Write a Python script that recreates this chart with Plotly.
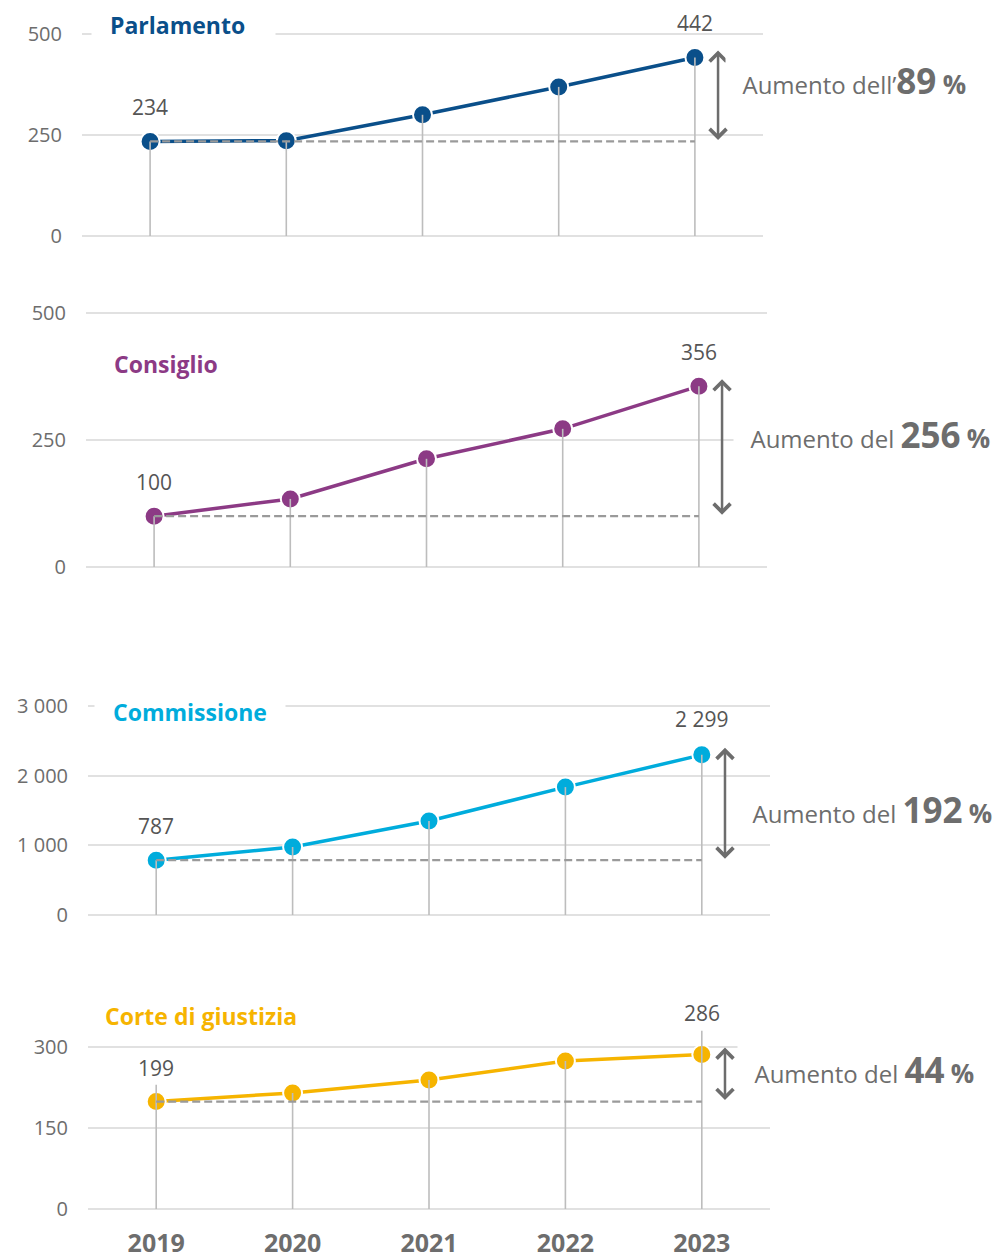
import plotly.graph_objects as go

# ---------------- data ----------------
years = [2019, 2020, 2021, 2022, 2023]
year_labels = ["2019", "2020", "2021", "2022", "2023"]

names = ["Parlamento", "Consiglio", "Commissione", "Corte di giustizia"]
parlamento = [234, 236, 300, 369, 442]
consiglio = [100, 134, 213, 272, 356]
commissione = [787, 976, 1349, 1836, 2299]
corte = [199, 215, 239, 274, 286]
increase_pct = [89, 256, 192, 44]
increase_prefix = ["Aumento dell’", "Aumento del ", "Aumento del ", "Aumento del "]
y_ticks_parlamento = [0, 250, 500]
y_ticks_consiglio = [0, 250, 500]
y_ticks_commissione = [0, 1000, 2000, 3000]
y_ticks_corte = [0, 150, 300]
# stems of the Corte panel that reach above their dot in the original
corte_stem_top = [230, None, None, None, 330]

series = [parlamento, consiglio, commissione, corte]
ticks = [y_ticks_parlamento, y_ticks_consiglio, y_ticks_commissione, y_ticks_corte]
stem_tops = [[None] * 5, [None] * 5, [None] * 5, corte_stem_top]

# ---------------- style / layout ----------------
W, H = 997, 1259
colors = ["#0a4f8a", "#8c3a85", "#00acdc", "#f6b400"]
# pixel rows of value 0 and of the top tick, plus the top of the visible range
y_pix = [(236, 34), (567, 313), (915, 706), (1209, 1047)]
range_top = [500, 500, 3000, 345]
x_pix = [(82, 763), (86, 767), (88, 770), (88, 770)]
title_px = [(110, 25), (114, 364), (113, 712), (105, 1016)]
title_bg = ["white", "rgba(0,0,0,0)", "white", "rgba(0,0,0,0)"]
title_tail = ["&nbsp;&nbsp;", "", "", ""]
text_px = [(742, 81), (750, 434), (752, 809), (754, 1069)]
last_label_shift = [34, 34, 36, 42]

GRAY = "#6d6d6d"
FONT = "Open Sans"


def fmt(v):
    return f"{v:,}".replace(",", " ")


fig = go.Figure()
annotations = []
layout = {}

for i, (name, vals) in enumerate(zip(names, series)):
    sfx = "" if i == 0 else str(i + 1)
    xa, ya = "x" + sfx, "y" + sfx
    l, r = x_pix[i]
    p0, pT = y_pix[i]
    top_tick = ticks[i][-1]
    upp = top_tick / (p0 - pT)  # units per pixel
    lo = -2 * upp
    hi = range_top[i] + (2 * upp if range_top[i] == top_tick else 0)
    dom_bottom_px = p0 - lo / upp
    dom_top_px = p0 - hi / upp
    base = vals[0]
    last = vals[-1]

    # main line with markers
    fig.add_trace(go.Scatter(
        x=years, y=vals, xaxis=xa, yaxis=ya, mode="lines+markers",
        line=dict(color=colors[i], width=3.5),
        marker=dict(size=19, color=colors[i], line=dict(color="white", width=2)),
        cliponaxis=False, showlegend=False, hoverinfo="x+y", name=name,
    ))
    # stems
    sx, sy = [], []
    for yr, v, top in zip(years, vals, stem_tops[i]):
        sx += [yr, yr, None]
        sy += [0, v if top is None else max(v, top), None]
    fig.add_trace(go.Scatter(
        x=sx, y=sy, xaxis=xa, yaxis=ya, mode="lines",
        line=dict(color="#bdbdbd", width=1.6),
        showlegend=False, hoverinfo="skip",
    ))
    # dashed baseline
    fig.add_trace(go.Scatter(
        x=[years[0], years[-1]], y=[base, base], xaxis=xa, yaxis=ya, mode="lines",
        line=dict(color="#9a9a9a", width=2.3, dash="8px,4px"),
        showlegend=False, hoverinfo="skip",
    ))

    layout["xaxis" + sfx] = dict(
        domain=[l / W, r / W], range=[2018.5, 2023.5], anchor=ya,
        tickvals=years, ticktext=year_labels, showticklabels=(i == 3),
        showgrid=False, zeroline=False, showline=False, ticks="",
        tickfont=dict(family=FONT, size=25, color=GRAY, weight="bold"),
        ticklabelstandoff=15, automargin=False,
    )
    layout["yaxis" + sfx] = dict(
        domain=[1 - dom_bottom_px / H, 1 - dom_top_px / H], range=[lo, hi], anchor=xa,
        tickvals=ticks[i], ticktext=[fmt(v) for v in ticks[i]],
        showgrid=True, gridcolor="#e1e1e1", gridwidth=1.5,
        zeroline=False, showline=False, ticks="",
        tickfont=dict(family=FONT, size=20, color=GRAY),
        ticklabelstandoff=19, automargin=False,
    )

    # title
    tx, ty = title_px[i]
    annotations.append(dict(
        xref="paper", yref="paper", x=(tx - 19) / W, y=1 - ty / H,
        xanchor="left", yanchor="middle", showarrow=False,
        text=f"<b>{name}</b>{title_tail[i]}", bgcolor=title_bg[i], borderpad=18,
        font=dict(family=FONT, size=23, color=colors[i]),
    ))
    # first / last value labels
    annotations.append(dict(
        xref=xa, yref=ya, x=years[0], y=base, yshift=34, showarrow=False,
        text=fmt(base), font=dict(family=FONT, size=21, color="#555555"),
    ))
    annotations.append(dict(
        xref=xa, yref=ya, x=years[-1], y=last, yshift=last_label_shift[i],
        showarrow=False, text=fmt(last),
        font=dict(family=FONT, size=21, color="#555555"),
    ))
    # double-headed arrow
    ax_x = 2023.17
    annotations.append(dict(
        xref=xa, yref=ya, axref=xa, ayref=ya,
        x=ax_x, y=last + 7 * upp, ax=ax_x, ay=base,
        text="", showarrow=True, arrowside="end+start",
        arrowhead=4, startarrowhead=4, arrowsize=1.3, startarrowsize=1.3,
        arrowwidth=2.5, arrowcolor=GRAY,
    ))
    # increase text (white box hides the gridline behind it)
    tpx, tpy = text_px[i]
    annotations.append(dict(
        xref="paper", yref="paper", x=(tpx - 12.5 - 4 - 1) / W, y=1 - tpy / H,
        xanchor="left", yanchor="middle", showarrow=False,
        bgcolor="white", borderpad=4,
        text=(f"&nbsp;&nbsp;{increase_prefix[i]}<b><span style='font-size:35px'>{increase_pct[i]}</span>"
              f" <span style='font-size:26px'>%</span></b>"),
        font=dict(family=FONT, size=24, color=GRAY),
    ))

fig.update_layout(
    width=W, height=H, margin=dict(l=0, r=0, t=0, b=0),
    paper_bgcolor="white", plot_bgcolor="white",
    font=dict(family=FONT), annotations=annotations, showlegend=False,
    **layout,
)

fig.write_html("out.html")
